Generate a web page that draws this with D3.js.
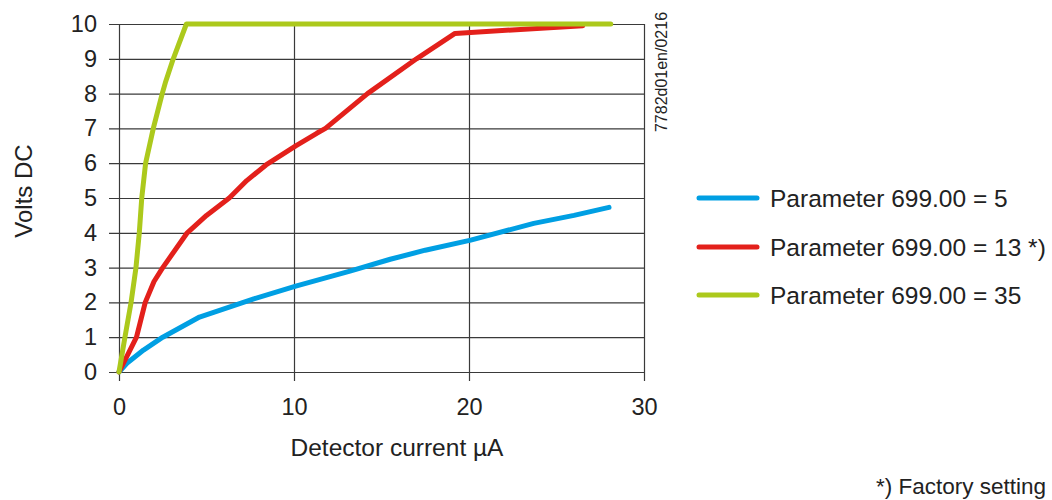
<!DOCTYPE html>
<html>
<head>
<meta charset="utf-8">
<script src="https://cdn.jsdelivr.net/npm/d3@7/dist/d3.min.js"></script>
<style>
  html, body { margin: 0; padding: 0; background: #fff; }
  svg { display: block; }
  text { font-family: "Liberation Sans", Arial, sans-serif; fill: #222; }
</style>
</head>
<body>
<svg id="chart" width="1052" height="500"></svg>
<script>
// ---- data ----
const xTicks = [0, 10, 20, 30];
const yTicks = [0, 1, 2, 3, 4, 5, 6, 7, 8, 9, 10];
const seriesNames = ["Parameter 699.00 = 5", "Parameter 699.00 = 13 *)", "Parameter 699.00 = 35"];
const seriesColors = ["#009fe3", "#e3201b", "#acc91c"];

// Detector current (µA), Volts DC
const blueX = [0, 0.45, 1.4, 2.5, 4.6, 7.7, 10.1, 13.2, 15.5, 17.5, 20.1, 23.7, 26.0, 28.0];
const blueY = [0, 0.25, 0.63, 1.0, 1.58, 2.1, 2.47, 2.9, 3.24, 3.5, 3.79, 4.27, 4.5, 4.73];

const redX = [0, 0.5, 1.0, 1.5, 2.0, 2.5, 3.9, 5.0, 6.3, 7.3, 8.4, 10.1, 11.3, 11.8, 14.2, 17.0, 19.2, 26.5];
const redY = [0, 0.5, 1.0, 2.0, 2.6, 3.0, 4.0, 4.5, 5.0, 5.5, 5.95, 6.5, 6.86, 7.0, 8.0, 9.0, 9.73, 9.95];

const greenX = [0, 0.34, 0.69, 0.97, 1.16, 1.3, 1.52, 1.96, 2.47, 2.67, 3.1, 3.85, 28.1];
const greenY = [0, 1, 2, 3, 4, 5, 6, 7, 8, 8.35, 9.0, 10, 10];

const xLabel = "Detector current µA";
const yLabel = "Volts DC";
const codeLabel = "7782d01en/0216";
const footnote = "*) Factory setting";

// ---- drawing ----
(function () {
const svg = d3.select("#chart");
const pLeft = 119, pRight = 644, pTop = 24, pBottom = 372;
const x = d3.scaleLinear().domain([0, 30]).range([pLeft, pRight]);
const y = d3.scaleLinear().domain([0, 10]).range([pBottom, pTop]);
const fs = 23.5;

// y axis with horizontal grid lines
const yAxisG = svg.append("g")
  .attr("transform", `translate(${pLeft - 10},0)`)
  .call(d3.axisLeft(y).tickValues(yTicks).tickFormat(d3.format("d"))
    .tickSizeInner(-(pRight - pLeft + 10)).tickSizeOuter(0).tickPadding(12));
yAxisG.select(".domain").remove();
yAxisG.selectAll(".tick line").attr("stroke", "#3a3a3a").attr("stroke-width", 1.2);
yAxisG.selectAll(".tick text").attr("font-size", fs).attr("font-family", "Liberation Sans, Arial, sans-serif").attr("fill", "#222");

// x axis with vertical grid lines
const xAxisG = svg.append("g")
  .attr("transform", `translate(0,${pBottom + 9})`)
  .call(d3.axisBottom(x).tickValues(xTicks).tickFormat(d3.format("d"))
    .tickSizeInner(-(pBottom + 9 - pTop)).tickSizeOuter(0).tickPadding(17));
xAxisG.select(".domain").remove();
xAxisG.selectAll(".tick line").attr("stroke", "#3a3a3a").attr("stroke-width", 1.2);
xAxisG.selectAll(".tick text").attr("font-size", fs).attr("font-family", "Liberation Sans, Arial, sans-serif").attr("fill", "#222");

// series
const series = [
  { xs: blueX, ys: blueY },
  { xs: redX, ys: redY },
  { xs: greenX, ys: greenY }
];
const line = d3.line().x(d => x(d[0])).y(d => y(d[1]));
series.forEach((s, i) => {
  const pts = s.xs.map((v, j) => [v, s.ys[j]]);
  svg.append("path")
    .attr("d", line(pts))
    .attr("fill", "none")
    .attr("stroke", seriesColors[i])
    .attr("stroke-width", 5)
    .attr("stroke-linejoin", "round")
    .attr("stroke-linecap", "round");
});

// axis titles
svg.append("text")
  .attr("x", 397)
  .attr("y", 456)
  .attr("text-anchor", "middle")
  .attr("font-size", 24.5)
  .text(xLabel);

svg.append("text")
  .attr("transform", "translate(32,191) rotate(-90)")
  .attr("text-anchor", "middle")
  .attr("font-size", 24)
  .text(yLabel);

// code label
svg.append("text")
  .attr("transform", "translate(667,72) rotate(-90)")
  .attr("text-anchor", "middle")
  .attr("font-size", 16)
  .text(codeLabel);

// legend
const legendY = [198, 247, 295];
seriesNames.forEach((name, i) => {
  svg.append("line")
    .attr("x1", 699).attr("x2", 757)
    .attr("y1", legendY[i]).attr("y2", legendY[i])
    .attr("stroke", seriesColors[i])
    .attr("stroke-width", 5)
    .attr("stroke-linecap", "round");
  svg.append("text")
    .attr("x", 770)
    .attr("y", legendY[i] + 8.5)
    .attr("font-size", 24.5)
    .text(name);
});

// footnote
svg.append("text")
  .attr("x", 1046)
  .attr("y", 494)
  .attr("text-anchor", "end")
  .attr("font-size", 22.5)
  .text(footnote);
})();
</script>
</body>
</html>
